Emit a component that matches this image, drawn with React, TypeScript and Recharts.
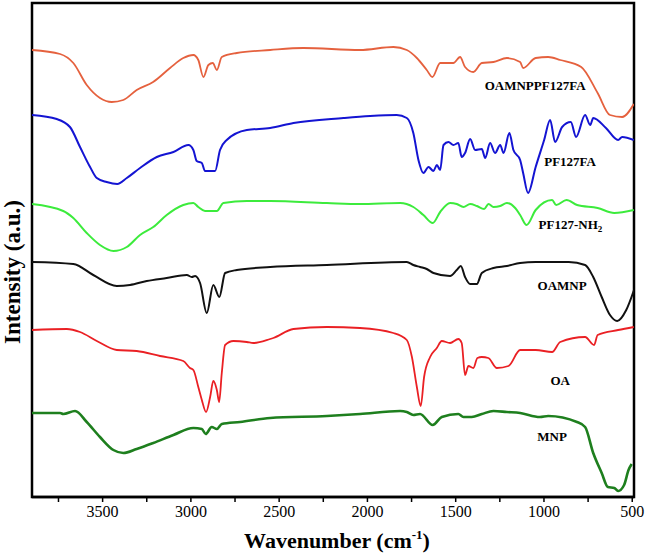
import React from "react";
import { LineChart, Line, XAxis, YAxis, ReferenceDot, ReferenceArea, Label } from "recharts";

// FTIR spectra, stacked with offsets (y = arbitrary units)
const OAMNPPF127FA: [number, number][] = [
	[3900, 447], [3741, 443], [3666, 434], [3590, 412], [3515, 399], [3448, 395], [3383, 397], [3307, 407],
	[3214, 415], [3118, 429], [3043, 439], [2986, 442], [2958, 437], [2929, 420], [2901, 432], [2876, 434],
	[2853, 427], [2825, 440], [2740, 444], [2551, 447], [2363, 449], [2042, 447], [1853, 450], [1777, 447],
	[1720, 439], [1664, 427], [1632, 420], [1588, 434], [1513, 434], [1475, 440], [1447, 430], [1400, 425],
	[1352, 434], [1286, 435], [1210, 439], [1135, 435], [1118, 429], [1047, 439], [976, 440], [908, 437],
	[789, 430], [696, 404], [626, 382], [557, 380], [491, 393],
];

const PF127FA: [number, number][] = [
	[3900, 382], [3760, 378], [3685, 370], [3628, 350], [3571, 330], [3533, 319], [3477, 315], [3417, 313],
	[3363, 319], [3288, 329], [3193, 340], [3099, 345], [3014, 352], [2986, 347], [2967, 336], [2938, 334],
	[2920, 326], [2863, 326], [2835, 347], [2797, 357], [2683, 367], [2551, 369], [2419, 374], [2136, 379],
	[1985, 381], [1834, 382], [1777, 379], [1740, 364], [1711, 337], [1683, 324], [1654, 330], [1626, 326],
	[1607, 332], [1588, 327], [1569, 352], [1541, 355], [1513, 352], [1485, 354], [1466, 340], [1447, 344],
	[1418, 358], [1390, 347], [1352, 348], [1333, 339], [1305, 354], [1277, 344], [1248, 352], [1229, 344],
	[1196, 364], [1173, 347], [1135, 337], [1118, 324], [1090, 304], [1047, 330], [999, 357], [965, 377],
	[937, 355], [897, 370], [848, 375], [818, 360], [767, 382], [738, 372], [721, 379], [649, 369],
	[580, 357], [557, 360], [491, 357],
];

const PF127NH2: [number, number][] = [
	[3900, 293], [3723, 286], [3666, 279], [3590, 264], [3515, 252], [3439, 246], [3363, 250], [3288, 262],
	[3213, 270], [3137, 282], [3043, 292], [2986, 294], [2958, 290], [2920, 286], [2853, 286], [2816, 294],
	[2683, 296], [2551, 296], [2230, 294], [2042, 293], [1815, 294], [1740, 290], [1683, 282], [1630, 274],
	[1588, 285], [1532, 294], [1494, 293], [1456, 290], [1418, 293], [1380, 291], [1339, 288], [1314, 293],
	[1286, 290], [1248, 291], [1210, 294], [1163, 289], [1135, 282], [1098, 272], [1047, 287], [954, 297],
	[931, 292], [872, 297], [812, 292], [696, 289], [602, 284], [491, 287],
];

const OAMNP: [number, number][] = [
	[3900, 235], [3666, 233], [3553, 222], [3420, 211], [3345, 212], [3250, 216], [3137, 219], [3023, 222],
	[2995, 220], [2976, 221], [2948, 214], [2910, 184], [2873, 212], [2839, 200], [2806, 224], [2740, 227],
	[2551, 230], [2230, 232], [1777, 235], [1740, 232], [1702, 230], [1664, 228], [1626, 224], [1532, 221],
	[1494, 227], [1471, 231], [1447, 220], [1418, 213], [1380, 213], [1352, 224], [1286, 229], [1210, 231],
	[1135, 234], [1047, 235], [860, 235], [767, 232], [721, 220], [673, 200], [626, 182], [585, 176],
	[534, 187], [490, 207],
];

const OA: [number, number][] = [
	[3900, 167], [3703, 168], [3628, 165], [3533, 156], [3420, 147], [3307, 146], [3175, 141], [3043, 136],
	[3005, 129], [2986, 127], [2958, 110], [2938, 97], [2914, 85], [2891, 100], [2873, 116], [2853, 107],
	[2840, 95], [2825, 124], [2806, 152], [2759, 156], [2683, 155], [2646, 154], [2551, 158], [2533, 159],
	[2419, 168], [2230, 170], [2042, 169], [1853, 164], [1777, 157], [1748, 140], [1720, 110], [1698, 91],
	[1679, 120], [1645, 140], [1607, 149], [1579, 156], [1532, 154], [1485, 158], [1466, 154], [1447, 122],
	[1428, 131], [1400, 129], [1377, 139], [1352, 140], [1315, 139], [1267, 129], [1201, 131], [1135, 147],
	[1047, 147], [954, 145], [908, 155], [767, 160], [716, 152], [696, 162], [580, 167], [491, 170],
];

const MNP: [number, number][] = [
	[3900, 84], [3741, 84], [3723, 83], [3656, 86], [3590, 75], [3515, 60], [3439, 47], [3383, 44],
	[3307, 48], [3213, 54], [3099, 62], [2986, 69], [2938, 68], [2916, 63], [2882, 70], [2853, 68],
	[2825, 73], [2721, 75], [2551, 79], [2230, 81], [2042, 83], [1815, 86], [1777, 85], [1740, 82],
	[1702, 83], [1630, 72], [1579, 80], [1485, 83], [1456, 80], [1409, 80], [1352, 83], [1286, 86],
	[1210, 85], [1135, 84], [1023, 80], [976, 81], [813, 75], [767, 70], [721, 44], [673, 24],
	[638, 10], [602, 9], [580, 6], [546, 12], [521, 27], [503, 33],
];

const xTicks = [3750, 3500, 3250, 3000, 2750, 2500, 2250, 2000, 1750, 1500, 1250, 1000, 750, 500];

// label name, anchor wavenumber, anchor y
const labelNames = ["OAMNPPF127FA", "PF127FA", "PF127-NH", "OAMNP", "OA", "MNP"];
const labelWn = [1050, 852, 850, 897, 908, 954];
const labelY = [410, 334, 271, 210, 115, 59];

const series = [
	{ key: "OAMNPPF127FA", pts: OAMNPPF127FA, color: "#E5613E", width: 1.8 },
	{ key: "PF127FA", pts: PF127FA, color: "#1414D2", width: 2 },
	{ key: "PF127-NH2", pts: PF127NH2, color: "#3CEB3C", width: 2 },
	{ key: "OAMNP", pts: OAMNP, color: "#111111", width: 2 },
	{ key: "OA", pts: OA, color: "#EA2024", width: 1.8 },
	{ key: "MNP", pts: MNP, color: "#1E7F1E", width: 2.6 },
];

const FONT = "'Liberation Serif', 'Times New Roman', serif";

const WaveTick = (props: any) => {
	const { x, y, payload } = props;
	if (payload.value % 500 !== 0) return null;
	return (
		<text x={x} y={y} dy={13} textAnchor="middle" fontSize={16} fontFamily={FONT} fill="#000">
			{payload.value}
		</text>
	);
};

const SeriesLabel = (i: number) => (props: any) => {
	const { cx, cy } = props;
	return (
		<text x={cx} y={cy} textAnchor="middle" dominantBaseline="middle" fontSize={13} fontWeight="bold" fontFamily={FONT} fill="#000">
			{labelNames[i]}
			{i === 2 && (
				<tspan fontSize={9} dy={4}>
					2
				</tspan>
			)}
		</text>
	);
};

export default function App() {
	return (
		<div style={{ position: "absolute", left: 0, top: 0, background: "#fff" }}>
			<LineChart width={646} height={559} margin={{ top: 3, right: 12, bottom: 0, left: 32 }}>
				<XAxis
					type="number"
					dataKey="wn"
					domain={[490, 3900]}
					reversed
					allowDataOverflow
					ticks={xTicks}
					tick={<WaveTick />}
					tickSize={5}
					tickLine={{ stroke: "#000", strokeWidth: 1.5 }}
					axisLine={{ stroke: "#000", strokeWidth: 2.5 }}
					height={62}
					interval={0}
				>
					<Label
						content={() => (
							<text x={337} y={548} textAnchor="middle" fontSize={22} fontWeight="bold" fontFamily={FONT} fill="#000">
								Wavenumber (cm
								<tspan fontSize={13} dy={-9}>-1</tspan>
								<tspan dy={9}>)</tspan>
							</text>
						)}
					/>
					<Label
						content={() => (
							<text
								x={15}
								y={272}
								transform="rotate(-90 15 272)"
								textAnchor="middle"
								dominantBaseline="middle"
								fontSize={23}
								fontWeight="bold"
								fontFamily={FONT}
								fill="#000"
							>
								Intensity (a.u.)
							</text>
						)}
					/>
				</XAxis>
				<YAxis type="number" domain={[0, 494]} allowDataOverflow hide />
				<ReferenceArea
					x1={490}
					x2={3900}
					y1={0}
					y2={494}
					fill="none"
					fillOpacity={0}
					stroke="#000"
					strokeWidth={2.5}
					ifOverflow="visible"
				/>
				{series.map((s) => (
					<Line
						key={s.key}
						data={s.pts.map(([wn, v]) => ({ wn, v }))}
						dataKey="v"
						type="monotone"
						stroke={s.color}
						strokeWidth={s.width}
						dot={false}
						activeDot={false}
						isAnimationActive={false}
					/>
				))}
				{labelNames.map((n, i) => (
					<ReferenceDot key={n} x={labelWn[i]} y={labelY[i]} r={0} shape={SeriesLabel(i)} />
				))}
			</LineChart>
		</div>
	);
}
